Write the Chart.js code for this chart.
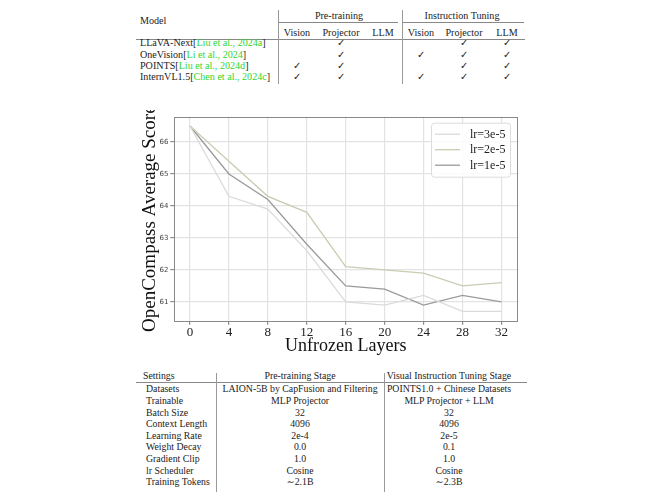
<!DOCTYPE html>
<html>
<head>
<meta charset="utf-8">
<script src="https://cdn.jsdelivr.net/npm/chart.js@4.4.1/dist/chart.umd.min.js"></script>
<style>
  html, body { margin: 0; padding: 0; background: #fff; }
  body { width: 660px; height: 503px; position: relative; overflow: hidden;
         font-family: "Liberation Serif", "DejaVu Serif", serif; color: #222; }
  .t { position: absolute; white-space: nowrap; font-size: 10.1px; line-height: 12px; }
  #bottom .t { font-size: 9.8px; }
  .c { transform: translateX(-50%); }
  .hl { position: absolute; height: 0; border-top: 1px solid #888; }
  .vl { position: absolute; width: 0; border-left: 1px solid #999; }
  .cite { color: #2fd62f; font-family: "Liberation Serif", "DejaVu Serif", serif; }
  #wrap { position: absolute; left: 130px; top: 110px; width: 400px; height: 260px; overflow: hidden; }
  #chart { position: absolute; left: 0; top: -15px; }
</style>
</head>
<body>
<div id="top"></div>
<div id="wrap"><canvas id="chart" width="400" height="275"></canvas></div>
<div id="bottom"></div>
<script>
// ---------- chart data ----------
const layers = [0, 4, 8, 12, 16, 20, 24, 28, 32];
const lr3e5 = [66.5, 64.3, 63.9, 62.6, 61.0, 60.9, 61.2, 60.7, 60.7];
const lr2e5 = [66.5, 65.4, 64.3, 63.8, 62.1, 62.0, 61.9, 61.5, 61.6];
const lr1e5 = [66.5, 65.0, 64.2, 62.8, 61.5, 61.4, 60.9, 61.2, 61.0];
const seriesLabels = ["lr=3e-5", "lr=2e-5", "lr=1e-5"];
const yTickValues = [61, 62, 63, 64, 65, 66];
const xTickValues = [0, 4, 8, 12, 16, 20, 24, 28, 32];

// ---------- top table data ----------
const topGroups = ["Pre-training", "Instruction Tuning"];
const topSubCols = ["Vision", "Projector", "LLM"];
const topModels = ["LLaVA-Next", "OneVision", "POINTS", "InternVL1.5"];
const topCites = [["Liu et al., ", "2024a"], ["Li et al., ", "2024"], ["Liu et al., ", "2024d"], ["Chen et al., ", "2024c"]];
// [preVision, preProj, preLLM, itVision, itProj, itLLM]
const topChecks = [
  [0, 1, 0, 0, 1, 1],
  [0, 1, 0, 1, 1, 1],
  [1, 1, 0, 0, 1, 1],
  [1, 1, 0, 1, 1, 1]
];

// ---------- bottom table data ----------
const botHeaders = ["Settings", "Pre-training Stage", "Visual Instruction Tuning Stage"];
const botSettings = ["Datasets", "Trainable", "Batch Size", "Context Length", "Learning Rate", "Weight Decay", "Gradient Clip", "lr Scheduler", "Training Tokens"];
const botPre = ["LAION-5B by CapFusion and Filtering", "MLP Projector", "32", "4096", "2e-4", "0.0", "1.0", "Cosine", "\u223C2.1B"];
const botVit = ["POINTS1.0 + Chinese Datasets", "MLP Projector + LLM", "32", "4096", "2e-5", "0.1", "1.0", "Cosine", "\u223C2.3B"];

// ---------- helpers ----------
function txt(parent, html, x, y, center) {
  const d = document.createElement('div');
  d.className = 't' + (center ? ' c' : '');
  d.innerHTML = html;
  d.style.left = x + 'px';
  d.style.top = (y - 6) + 'px';
  parent.appendChild(d);
  return d;
}
function hline(parent, x1, x2, y) {
  const d = document.createElement('div');
  d.className = 'hl';
  d.style.left = x1 + 'px'; d.style.width = (x2 - x1) + 'px'; d.style.top = y + 'px';
  parent.appendChild(d);
}
function vline(parent, x, y1, y2) {
  const d = document.createElement('div');
  d.className = 'vl';
  d.style.left = x + 'px'; d.style.top = y1 + 'px'; d.style.height = (y2 - y1) + 'px';
  parent.appendChild(d);
}

// ---------- top table ----------
(function () {
  const p = document.getElementById('top');
  const groupX = [339, 462];
  const colX = [297, 341, 383, 421, 464, 507];
  const rowY = [43.3, 54.5, 65.8, 77.2];
  txt(p, "Model", 140, 21, false);
  topGroups.forEach((g, i) => txt(p, g, groupX[i], 15.7, true));
  hline(p, 278, 398, 21.5);
  hline(p, 403, 524, 21.5);
  for (let g = 0; g < 2; g++) topSubCols.forEach((s, i) => txt(p, s, colX[g * 3 + i], 32.7, true));
  hline(p, 136, 525, 39);
  vline(p, 277.5, 10, 84);
  vline(p, 401.5, 10, 84);
  topModels.forEach((m, r) => {
    txt(p, m + '[<span class="cite">' + topCites[r][0] + '</span>' + '<span class="cite">' + topCites[r][1] + '</span>]', 140, rowY[r], false);
    topChecks[r].forEach((v, c) => { if (v) txt(p, '\u2713', colX[c], rowY[r], true); });
  });
})();

// ---------- bottom table ----------
(function () {
  const p = document.getElementById('bottom');
  txt(p, botHeaders[0], 143, 375.7, false);
  txt(p, botHeaders[1], 300, 375.7, true);
  txt(p, botHeaders[2], 449, 375.7, true);
  hline(p, 136, 527, 381.5);
  vline(p, 216, 372.5, 491.5);
  vline(p, 384, 372.5, 491.5);
  botSettings.forEach((s, r) => {
    const y = 389.3 + r * 11.6;
    txt(p, s, 146, y, false);
    txt(p, botPre[r], 300, y, true);
    txt(p, botVit[r], 449, y, true);
  });
})();

// ---------- chart ----------
const colors = ['#dadada', '#cbcbb2', '#9a9a9a'];
const seriesData = [lr3e5, lr2e5, lr1e5];
const serif = '"Liberation Serif", "DejaVu Serif", serif';

const framePlugin = {
  id: 'frame',
  afterDatasetsDraw(chart) {
    const { ctx, chartArea: a } = chart;
    ctx.save();
    ctx.strokeStyle = '#8a8a8a';
    ctx.lineWidth = 1;
    ctx.strokeRect(Math.round(a.left) + 0.5, Math.round(a.top) + 0.5, Math.round(a.right - a.left), Math.round(a.bottom - a.top));
    ctx.restore();
  },
  afterDraw(chart) {
    const { ctx, chartArea: a } = chart;
    const bx = a.right - 86, by = a.top + 6, bw = 79, bh = 54;
    ctx.save();
    ctx.fillStyle = 'rgba(255,255,255,0.85)';
    ctx.strokeStyle = '#dcdcdc';
    ctx.lineWidth = 1;
    ctx.beginPath();
    if (ctx.roundRect) ctx.roundRect(bx + 0.5, by + 0.5, bw, bh, 3); else ctx.rect(bx + 0.5, by + 0.5, bw, bh);
    ctx.fill(); ctx.stroke();
    ctx.font = '12px ' + serif;
    ctx.textBaseline = 'middle';
    ctx.textAlign = 'left';
    chart.data.datasets.forEach((ds, i) => {
      const y = by + 11.5 + i * 15.5;
      ctx.strokeStyle = ds.borderColor;
      ctx.lineWidth = 1.3;
      ctx.beginPath();
      ctx.moveTo(bx + 4, y); ctx.lineTo(bx + 29, y);
      ctx.stroke();
      ctx.fillStyle = '#222';
      ctx.fillText(ds.label, bx + 39, y + 0.5);
    });
    ctx.restore();
  }
};

new Chart(document.getElementById('chart'), {
  type: 'line',
  data: {
    datasets: seriesData.map((arr, i) => ({
      label: seriesLabels[i],
      data: layers.map((x, j) => ({ x: x, y: arr[j] })),
      borderColor: colors[i],
      backgroundColor: colors[i],
      borderWidth: 1.3,
      pointRadius: 0,
      tension: 0,
      fill: false
    }))
  },
  options: {
    responsive: false,
    animation: false,
    devicePixelRatio: 1,
    layout: { padding: { top: 21.7, right: 13, left: 0, bottom: 0 } },
    plugins: { legend: { display: false }, tooltip: { enabled: false } },
    scales: {
      x: {
        type: 'linear',
        min: -1.6, max: 33.6,
        afterBuildTicks: s => { s.ticks = xTickValues.map(v => ({ value: v })); },
        afterFit: s => { s.height = 49.3; },
        grid: { color: '#e3e3e3', lineWidth: 1.2, tickLength: 4, tickColor: '#8a8a8a', drawTicks: true },
        border: { display: false },
        ticks: { font: { family: serif, size: 13 }, color: '#222', padding: 0, maxRotation: 0, autoSkip: false },
        title: { display: true, text: 'Unfrozen Layers', font: { family: serif, size: 18, lineHeight: 1 }, color: '#111', padding: { top: 14.3, bottom: 14.3 } }
      },
      y: {
        type: 'linear',
        min: 60.41, max: 66.79,
        afterBuildTicks: s => { s.ticks = yTickValues.map(v => ({ value: v })); },
        afterFit: s => { s.width = 44.4; },
        grid: { color: '#e3e3e3', lineWidth: 1.2, tickLength: 4, tickColor: '#8a8a8a', drawTicks: true },
        border: { display: false },
        ticks: { font: { family: '"DejaVu Sans", sans-serif', size: 7 }, color: '#444', padding: 2 },
        title: { display: true, text: 'OpenCompass Average Score', font: { family: serif, size: 19, lineHeight: 1 }, color: '#111', padding: { top: 10.5, bottom: 10.5 } }
      }
    }
  },
  plugins: [framePlugin]
});
</script>
</body>
</html>
